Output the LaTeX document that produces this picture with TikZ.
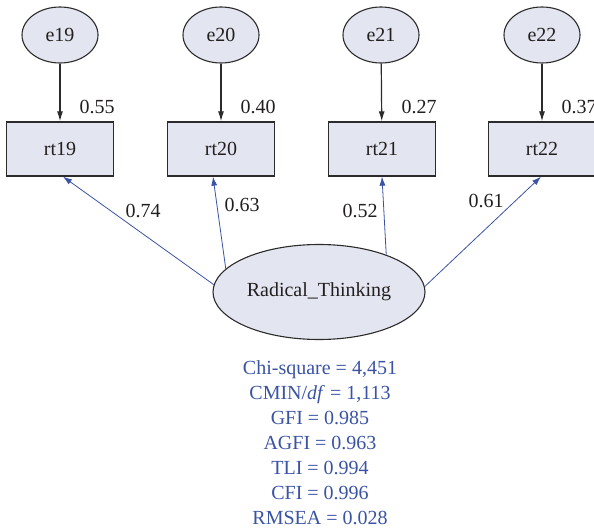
\documentclass[tikz,border=0pt]{standalone}
\usepackage{fontspec}
\setmainfont{Liberation Serif}
\usetikzlibrary{calc,arrows.meta,positioning,shapes.geometric}
\definecolor{boxfill}{HTML}{E3E6F0}
\definecolor{pathblue}{HTML}{3A53A4}
\definecolor{linegray}{HTML}{2B2B2B}
\definecolor{textdark}{HTML}{231F20}

\begin{document}
\begin{tikzpicture}[x=1pt, y=-1pt,
  every node/.style={align=center, text=textdark},
  font=\fontsize{20}{25}\selectfont,
  err/.style={ellipse, draw=linegray, line width=1.1pt, fill=boxfill, minimum width=76pt, minimum height=56pt, inner sep=0},
  item/.style={rectangle, draw=linegray, line width=1.3pt, fill=boxfill, minimum width=107pt, minimum height=54pt, inner sep=0},
  errarrow/.style={line width=1.2pt, linegray, -{Latex[length=10pt, width=6pt]}},
  loadarrow/.style={line width=0.8pt, pathblue, -{Latex[length=9pt, width=6pt]}}]

\useasboundingbox (0,0) rectangle (594,532);

% error terms
\node[err] (e19) at (60,35) {e19};
\node[err] (e20) at (221,35) {e20};
\node[err] (e21) at (381,35) {e21};
\node[err] (e22) at (542,35) {e22};

% observed items
\node[item] (rt19) at (60,149) {rt19};
\node[item] (rt20) at (221,149) {rt20};
\node[item] (rt21) at (382,149) {rt21};
\node[item] (rt22) at (542,149) {rt22};

% latent factor
\node[ellipse, draw=linegray, line width=1.1pt, fill=boxfill, minimum width=212pt, minimum height=95pt, inner sep=0] (rad) at (319,292) {Radical\_Thinking};

\draw[errarrow] (e19) -- (rt19);
\draw[errarrow] (e20) -- (rt20);
\draw[errarrow] (e21) -- (rt21);
\draw[errarrow] (e22) -- (rt22);

\node (r19) at ($(rt19.north east)+(-17,-14)$) {0.55};
\node (r20) at ($(rt20.north east)+(-17,-14)$) {0.40};
\node (r21) at ($(rt21.north east)+(-17,-14)$) {0.27};
\node (r22) at ($(rt22.north east)+(-17,-14)$) {0.37};

\coordinate (t19) at ($(rt19.south)+(3,0)$);
\coordinate (t20) at ($(rt20.south)+(-8,0)$);
\coordinate (t21) at ($(rt21.south)+(0,0)$);
\coordinate (t22) at ($(rt22.south)+(-1,0)$);

\draw[loadarrow] (rad.176) -- (t19);
\draw[loadarrow] (rad.166) -- (t20);
\draw[loadarrow] (rad.29) -- (t21);
\draw[loadarrow] (rad.3) -- (t22);

\node (w19) at (143,211) {0.74};
\node (w20) at (242,205) {0.63};
\node (w21) at (360,211) {0.52};
\node (w22) at (486,201) {0.61};

% fit indices
\node[text=pathblue, inner sep=0] (fit) at (320,443) {Chi-square = 4,451\\ CMIN/\textit{df} = 1,113\\ GFI = 0.985\\ AGFI = 0.963\\ TLI = 0.994\\ CFI = 0.996\\ RMSEA = 0.028};

\end{tikzpicture}
\end{document}
